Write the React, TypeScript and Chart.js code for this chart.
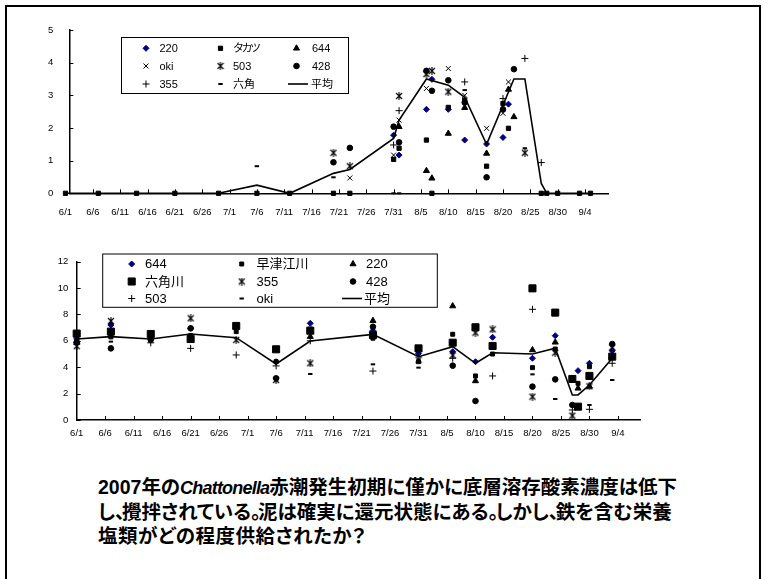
import React, { useEffect, useRef } from "react";
import { Chart, registerables } from "chart.js";
import { drawPoint } from "chart.js/helpers";

Chart.register(...registerables);

const N = null;

// ---------- top chart (0–5) ----------
const topDates = ["6/1","6/7","6/14","6/21","6/29","7/6","7/12","7/20","7/23","7/31","8/1","8/6","8/7","8/10","8/13","8/17","8/20","8/21","8/22","8/24","8/27","8/28","8/30","9/3","9/5"];
const top220 =      [N,N,N,N,N,N,N,N,N,1.78,1.17,2.57,3.49,2.57,1.63,1.51,1.71,2.73,N,N,N,N,N,N,N];
const topTakatsu =  [0,0,0,0,0,0,0,0,0,1.04,1.38,1.63,0,2.63,2.85,0.83,2.75,1.99,N,N,0,0,0,0,0];
const top644 =      [N,N,N,N,N,N,N,N,N,N,2.04,0.69,0.46,1.83,2.62,1.22,N,3.18,2.34,N,N,N,N,N,N];
const topOki =      [N,N,N,N,N,N,N,N,0.47,1.17,2.24,3.21,N,3.82,3.0,1.99,2.45,3.41,N,N,N,N,N,N,N];
const top503 =      [N,N,N,N,N,N,N,1.24,0.83,N,2.98,3.65,3.75,3.11,N,N,N,N,N,1.24,N,N,N,N,N];
const top428 =      [N,N,N,N,N,N,N,0.95,1.39,2.04,1.56,3.75,3.14,3.46,2.78,0.49,2.57,N,3.8,N,N,N,N,N,N];
const top355 =      [N,N,N,N,N,N,N,N,N,1.48,2.53,N,N,N,3.41,N,2.9,N,N,4.13,0.94,N,N,N,N];
const topRokkaku =  [N,N,N,N,N,0.83,N,0.49,N,0,0,N,N,N,3.16,N,N,N,N,1.38,N,N,N,N,N];
const topAvg =      [0,0,0,0,0,0.25,0,0.61,0.73,1.68,2.24,3.5,N,3.31,2.94,1.5,N,N,3.5,3.5,0.3,0,0,0,0];
const topYTicks = [0, 1, 2, 3, 4, 5];

// ---------- bottom chart (0–12) ----------
const botDates = ["6/1","6/7","6/14","6/21","6/29","7/6","7/12","7/23","7/31","8/6","8/10","8/13","8/20","8/24","8/27","8/28","8/30","9/3"];
const bot644 =       [6.15,7.2,N,6.95,N,4.42,7.33,6.77,5.05,5.18,4.42,6.27,4.68,6.39,N,3.74,4.3,5.25];
const botHayatsue =  [5.85,6.3,6.06,6.4,6.7,4.42,6.9,6.2,4.42,6.5,3.34,5.0,3.97,5.38,N,2.78,4.04,N];
const bot220 =       [6.0,N,N,N,N,N,6.32,7.53,N,8.64,2.96,N,5.31,5.89,N,2.4,2.55,N];
const botRokkaku =   [6.55,6.7,6.52,6.14,7.13,5.36,6.77,6.44,5.43,5.86,7.03,5.61,9.98,8.14,3.11,1.01,3.34,4.8];
const bot355 =       [5.6,7.5,N,7.71,6.07,3.03,4.3,N,4.57,4.9,6.62,6.87,1.77,5.1,0.33,N,2.55,5.51];
const bot428 =       [5.9,5.43,6.1,6.95,N,3.16,N,7.07,N,4.12,1.44,N,2.53,3.08,1.14,N,N,5.76];
const bot503 =       [5.75,N,5.85,5.43,4.93,4.1,6.0,3.71,N,4.68,N,3.34,8.39,N,0.76,N,0.81,4.3];
const botOki =       [N,5.94,N,N,N,N,3.49,4.22,3.97,N,N,N,3.46,1.59,N,N,1.14,3.03];
const botAvg =       [6.14,6.32,6.14,6.52,6.24,4.25,5.99,6.49,4.8,5.56,4.3,5.1,5.0,5.45,1.9,1.9,2.65,4.68];
const botYTicks = [0, 2, 4, 6, 8, 10, 12];

// x-axis tick labels (every 5 days from 6/1)
const xTickLabels = ["6/1","6/6","6/11","6/16","6/21","6/26","7/1","7/6","7/11","7/16","7/21","7/26","7/31","8/5","8/10","8/15","8/20","8/25","8/30","9/4"];

// ---------- helpers ----------
function dayOf(md: string): number {
  const [m, d] = md.split("/").map(Number);
  if (m === 6) return d - 1;
  if (m === 7) return 29 + d;
  if (m === 8) return 60 + d;
  return 91 + d;
}
const xTickValues = xTickLabels.map(dayOf);

const TICK_FONT = { size: 9.5, family: '"Liberation Sans", Arial, sans-serif' };
const NAVY = "#000080";

function pts(dates: string[], vals: (number | null)[]) {
  const out: { x: number; y: number }[] = [];
  dates.forEach((d, i) => {
    const v = vals[i];
    if (v !== null && v !== undefined) out.push({ x: dayOf(d), y: v });
  });
  return out;
}

function makeStar(size: number) {
  const c = document.createElement("canvas");
  c.width = size;
  c.height = size;
  const g = c.getContext("2d")!;
  g.strokeStyle = "#000";
  g.lineWidth = 1.1;
  g.beginPath();
  g.moveTo(1, 1); g.lineTo(size - 1, size - 1);
  g.moveTo(size - 1, 1); g.lineTo(1, size - 1);
  g.moveTo(size / 2, 0); g.lineTo(size / 2, size);
  g.stroke();
  return c;
}

function scatterDs(label: string, dates: string[], vals: (number | null)[], style: any, idx: number) {
  return {
    type: "scatter",
    label,
    data: pts(dates, vals),
    pointStyle: style.ps,
    pointRadius: style.r,
    pointHoverRadius: 10,
    pointBorderWidth: style.bw ?? 1,
    backgroundColor: style.c ?? "#000",
    borderColor: style.c ?? "#000",
    showLine: false,
    clip: false,
    order: -idx,
  };
}

function lineDs(label: string, dates: string[], vals: (number | null)[], idx: number) {
  return {
    type: "line",
    label,
    data: pts(dates, vals),
    borderColor: "#000",
    backgroundColor: "#000",
    borderWidth: 1.6,
    pointRadius: 0,
    pointHoverRadius: 0,
    tension: 0,
    fill: false,
    clip: false,
    order: -idx,
  };
}

const innerTicks = {
  id: "innerTicks",
  afterDraw(chart: any) {
    const { ctx, chartArea } = chart;
    const xs = chart.scales.x;
    const ys = chart.scales.y;
    ctx.save();
    ctx.strokeStyle = "#000";
    ctx.lineWidth = 1;
    ctx.beginPath();
    xs.ticks.forEach((t: any) => {
      const px = xs.getPixelForValue(t.value);
      if (px < chartArea.left + 1) return;
      const x = Math.round(px) + 0.5;
      ctx.moveTo(x, chartArea.bottom);
      ctx.lineTo(x, chartArea.bottom - 4);
    });
    ys.ticks.forEach((t: any) => {
      const y = Math.round(ys.getPixelForValue(t.value)) + 0.5;
      ctx.moveTo(chartArea.left, y);
      ctx.lineTo(chartArea.left + 4, y);
    });
    ctx.stroke();
    ctx.restore();
  },
};

function makeLegend(cfg: any) {
  return {
    id: "boxLegend",
    afterDraw(chart: any) {
      const ctx = chart.ctx;
      ctx.save();
      const [bx, by, bw, bh] = cfg.box;
      ctx.fillStyle = "#fff";
      ctx.fillRect(bx, by, bw, bh);
      ctx.strokeStyle = "#000";
      ctx.lineWidth = 1;
      ctx.strokeRect(bx, by, bw, bh);
      ctx.font = cfg.font;
      ctx.textBaseline = "middle";
      ctx.textAlign = "left";
      chart.data.datasets.forEach((ds: any, i: number) => {
        const row = Math.floor(i / 3);
        const col = i % 3;
        const y = cfg.rows[row];
        const sp = (cfg.spacing && cfg.spacing[ds.label]) || "0px";
        if (ds.type === "line") {
          ctx.strokeStyle = ds.borderColor;
          ctx.lineWidth = ds.borderWidth;
          ctx.beginPath();
          ctx.moveTo(cfg.line[0], y);
          ctx.lineTo(cfg.line[1], y);
          ctx.stroke();
          ctx.fillStyle = "#000";
          (ctx as any).letterSpacing = sp;
          ctx.fillText(ds.label, cfg.line[2], y + 0.5);
        } else {
          ctx.fillStyle = ds.backgroundColor;
          ctx.strokeStyle = ds.borderColor;
          ctx.lineWidth = ds.pointBorderWidth;
          drawPoint(ctx, { pointStyle: ds.pointStyle, radius: ds.pointRadius, borderWidth: ds.pointBorderWidth, rotation: 0 } as any, cfg.markerX[col], y);
          ctx.fillStyle = "#000";
          (ctx as any).letterSpacing = sp;
          ctx.fillText(ds.label, cfg.textX[col], y + 0.5);
        }
        (ctx as any).letterSpacing = "0px";
      });
      ctx.restore();
    },
  };
}

function buildConfig(o: any) {
  return {
    type: "scatter",
    data: { datasets: o.datasets },
    options: {
      responsive: false,
      animation: false,
      devicePixelRatio: 1,
      events: [],
      layout: {
        autoPadding: false,
        padding: { left: 0, top: o.area.top, right: o.canvasW - o.area.right, bottom: 0 },
      },
      plugins: { legend: { display: false }, tooltip: { enabled: false } },
      scales: {
        x: {
          type: "linear",
          min: o.xMin,
          max: o.xMax,
          afterBuildTicks: (s: any) => {
            s.ticks = xTickValues.map((v) => ({ value: v }));
          },
          afterFit: (s: any) => {
            s.height = o.canvasH - o.area.bottom;
          },
          grid: { display: false, drawTicks: false },
          border: { display: true, color: "#000", width: 1.5 },
          ticks: {
            autoSkip: false,
            maxRotation: 0,
            minRotation: 0,
            padding: o.xPad,
            color: "#000",
            font: TICK_FONT,
            callback: (v: number) => {
              const i = xTickValues.indexOf(v);
              return i >= 0 ? xTickLabels[i] : "";
            },
          },
        },
        y: {
          type: "linear",
          min: o.yTicks[0],
          max: o.yTicks[o.yTicks.length - 1],
          afterBuildTicks: (s: any) => {
            s.ticks = o.yTicks.map((v: number) => ({ value: v }));
          },
          afterFit: (s: any) => {
            s.width = o.area.left;
          },
          grid: { display: false, drawTicks: false },
          border: { display: true, color: "#000", width: 1.5 },
          ticks: {
            padding: o.yPad,
            color: "#000",
            font: TICK_FONT,
            callback: (v: number) => String(v),
          },
        },
      },
    },
    plugins: [innerTicks, makeLegend(o.legend)],
  };
}

const P = ({ c }: { c: string }) => <span style={{ letterSpacing: "-3px" }}>{c}</span>;

export default function App() {
  const ref1 = useRef<HTMLCanvasElement>(null);
  const ref2 = useRef<HTMLCanvasElement>(null);

  useEffect(() => {
    const star = makeStar(8);

    const topSets = [
      scatterDs("220", topDates, top220, { ps: "rectRot", r: 3, c: NAVY }, 0),
      scatterDs("タカツ", topDates, topTakatsu, { ps: "rect", r: 3 }, 1),
      scatterDs("644", topDates, top644, { ps: "triangle", r: 3.5 }, 2),
      scatterDs("oki", topDates, topOki, { ps: "crossRot", r: 3.5 }, 3),
      scatterDs("503", topDates, top503, { ps: star, r: 3.5 }, 4),
      scatterDs("428", topDates, top428, { ps: "circle", r: 2.8 }, 5),
      scatterDs("355", topDates, top355, { ps: "cross", r: 3.5 }, 6),
      scatterDs("六角", topDates, topRokkaku, { ps: "line", r: 2.2, bw: 2 }, 7),
      lineDs("平均", topDates, topAvg, 8),
    ];

    const botSets = [
      scatterDs("644", botDates, bot644, { ps: "rectRot", r: 3, c: NAVY }, 0),
      scatterDs("早津江川", botDates, botHayatsue, { ps: "rect", r: 2.8 }, 1),
      scatterDs("220", botDates, bot220, { ps: "triangle", r: 3.5 }, 2),
      scatterDs("六角川", botDates, botRokkaku, { ps: "rect", r: 5 }, 3),
      scatterDs("355", botDates, bot355, { ps: star, r: 3.5 }, 4),
      scatterDs("428", botDates, bot428, { ps: "circle", r: 2.8 }, 5),
      scatterDs("503", botDates, bot503, { ps: "cross", r: 3.5 }, 6),
      scatterDs("oki", botDates, botOki, { ps: "line", r: 2.2, bw: 2 }, 7),
      lineDs("平均", botDates, botAvg, 8),
    ];

    const c1 = new Chart(ref1.current as any, buildConfig({
      datasets: topSets,
      canvasW: 650,
      canvasH: 232,
      area: { left: 69.3, top: 30, right: 608, bottom: 193.3 },
      xMin: 0.7,
      xMax: 99.2,
      yTicks: topYTicks,
      xPad: 13.7,
      yPad: 16,
      legend: {
        box: [121.5, 37.5, 227, 56],
        rows: [48.3, 66, 84],
        markerX: [146, 220.5, 296.5],
        textX: [159.5, 233, 312],
        line: [288, 308, 311],
        font: '11px "Liberation Sans", "Noto Sans CJK JP", sans-serif',
        spacing: { "タカツ": "-2.5px" },
      },
    }) as any);

    const c2 = new Chart(ref2.current as any, buildConfig({
      datasets: botSets,
      canvasW: 660,
      canvasH: 210,
      area: { left: 76.7, top: 21.7, right: 640.7, bottom: 180 },
      xMin: 0,
      xMax: 99,
      yTicks: botYTicks,
      xPad: 7.6,
      yPad: 8.4,
      legend: {
        box: [102.7, 14, 334.6, 53.3],
        rows: [24, 41.5, 58.5],
        markerX: [131.7, 241.7, 353],
        textX: [145, 256.5, 366],
        line: [342, 362, 364],
        font: '13px "Liberation Sans", "Noto Sans CJK JP", sans-serif',
      },
    }) as any);

    return () => {
      c1.destroy();
      c2.destroy();
    };
  }, []);

  return (
    <div style={{ position: "absolute", left: 0, top: 0, width: 768, height: 579, overflow: "hidden", background: "#fff" }}>
      <div style={{ position: "absolute", left: 5, top: 5, width: 756, height: 640, border: "2px solid #000", boxSizing: "border-box" }} />
      <canvas ref={ref1} width={650} height={232} style={{ position: "absolute", left: 0, top: 0, width: 650, height: 232 }} />
      <canvas ref={ref2} width={660} height={210} style={{ position: "absolute", left: 0, top: 240, width: 660, height: 210 }} />
      <div
        style={{
          position: "absolute",
          left: 98,
          top: 474.5,
          fontFamily: '"Liberation Sans", "Noto Sans CJK JP", sans-serif',
          fontWeight: "bold",
          fontSize: "19.5px",
          lineHeight: "24.2px",
          whiteSpace: "nowrap",
          color: "#000",
          fontFeatureSettings: '"palt"',
        }}
      >
        <div>
          2007年の<i style={{ fontSize: "18px", letterSpacing: "-0.8px" }}>Chattonella</i>赤潮発生初期に僅かに底層溶存酸素濃度は低下
        </div>
        <div>
          し<P c="、" />攪拌されている<P c="。" />泥は確実に還元状態にある<P c="。" />しかし<P c="、" />鉄を含む栄養
        </div>
        <div style={{ letterSpacing: "0.5px" }}>塩類がどの程度供給されたか？</div>
      </div>
    </div>
  );
}
